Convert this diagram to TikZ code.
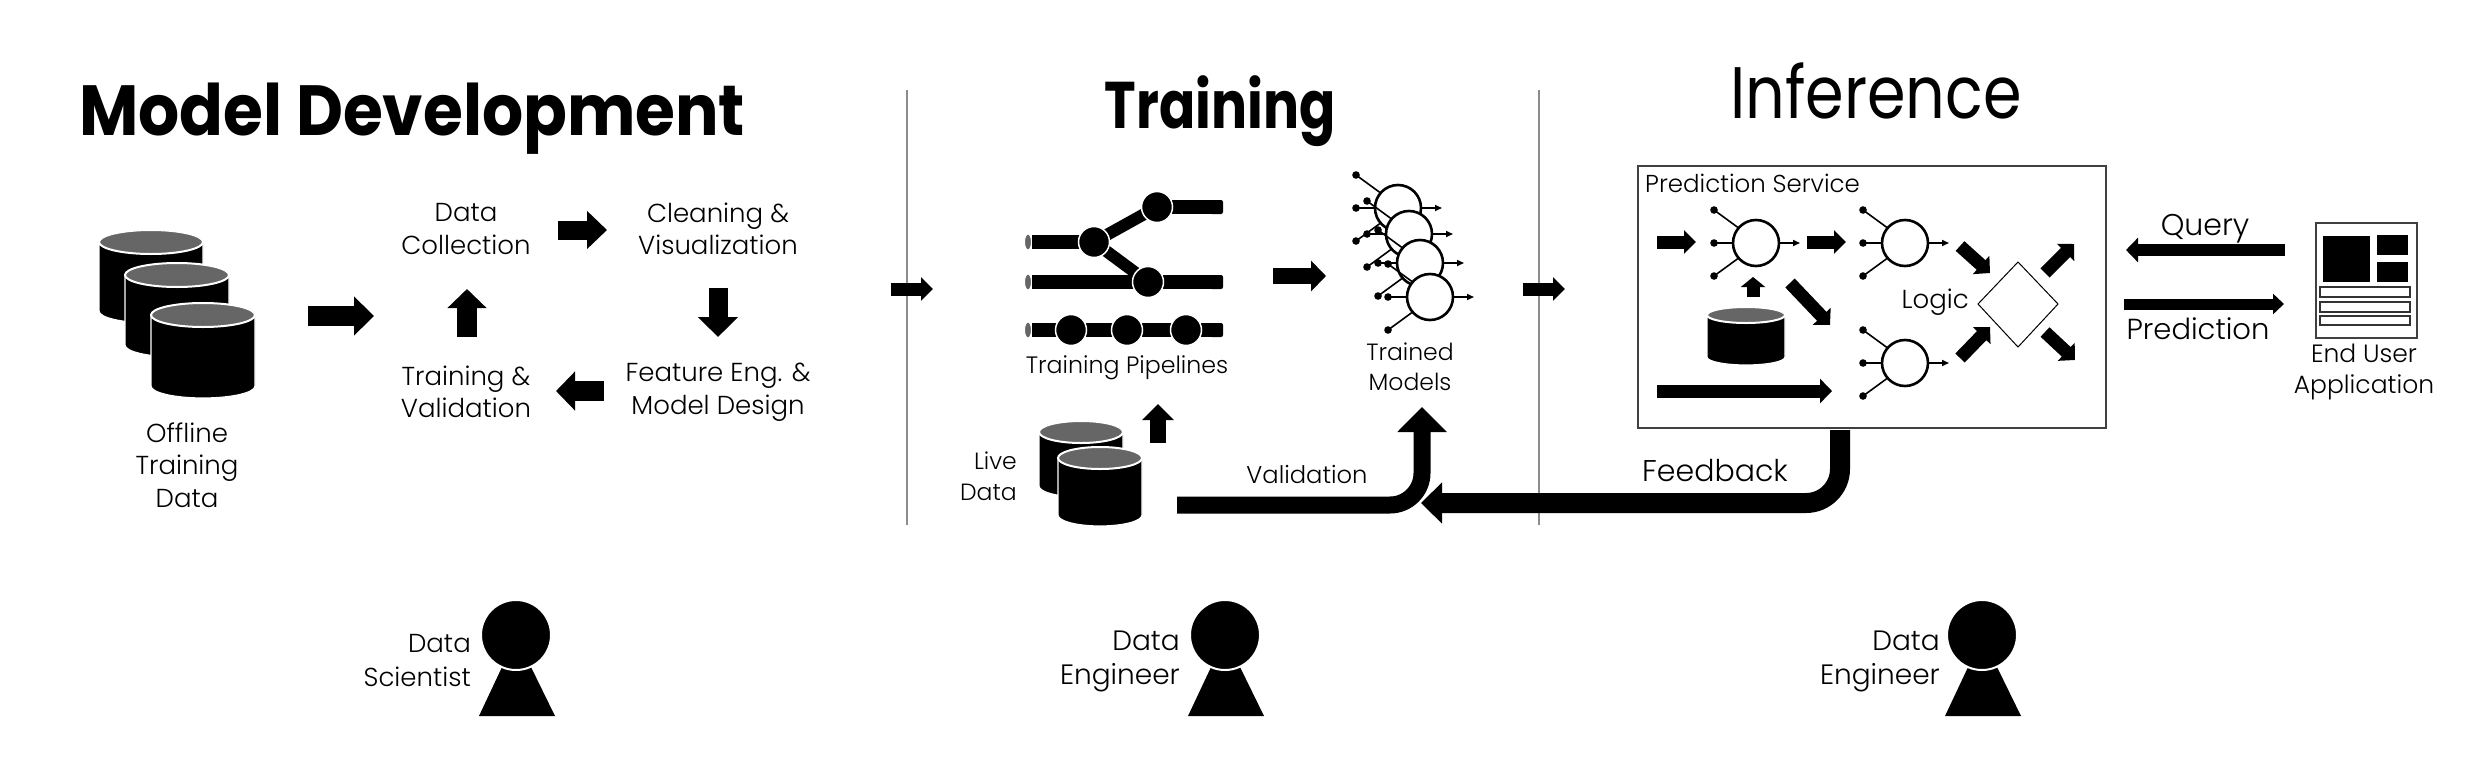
\documentclass[tikz,border=0pt]{standalone}
\usepackage{fontspec}
\usepackage{graphicx}
\setmainfont{Poppins Light}[BoldFont=Poppins Bold]
\newfontfamily\regf{Poppins}
\usetikzlibrary{arrows.meta,shapes.geometric}
\definecolor{cyltop}{HTML}{666666}
\tikzset{
  lbl/.style={font=\fontsize{26}{32.5}\selectfont,inner sep=0pt,align=center},
  lblz/.style 2 args={inner sep=0pt,align=center,font=\fontsize{#1}{#2}\selectfont},
  lblr/.style={lbl,align=right,anchor=east},
  blk/.style n args={3}{line width=#1pt,line cap=butt,-{Triangle[length=#3pt,width=#2pt]},black},
  divider/.style={draw=black!45,line width=1.2pt},
  thin box/.style={draw=black!75,line width=1.5pt,fill=white},
  pipenode/.style={ellipse,draw=white,line width=1.5pt,fill=black,minimum width=31pt,minimum height=31pt,inner sep=0pt},
  pipebar/.style={line width=14pt,line cap=butt,black},
  pipebranch/.style={line width=12pt,line cap=butt,black},
  pipeend/.style={fill=cyltop,draw=white,line width=1pt},
  neuron/.pic={
    \draw[line width=1.6pt] (-16,-14) -- (-42,-33);
    \draw[line width=1.6pt] (-16,14) -- (-42,33);
    \draw[line width=2.4pt] (-22,0) -- (-42,0);
    \fill (-42,-33) circle[radius=3.8pt] (-42,0) circle[radius=3.8pt] (-42,33) circle[radius=3.8pt];
    \draw[line width=1.6pt,-{Triangle[length=7pt,width=6pt]}] (22,0) -- (44,0);
    \draw[line width=2.6pt,fill=white] (0,0) circle[radius=23pt];
  },
  person/.pic={
    \fill (-13,30) -- (14,30) -- (39,81) -- (-37,81) -- cycle;
    \fill[draw=white,line width=2pt] (0,0) ellipse[x radius=35pt,y radius=35pt];
  },
}
\newcommand\Cyl[5]{% cx, top centre y, bottom y, rx, ry
  \fill[black,draw=white,line width=1.2pt] (#1-#4,#2) -- (#1-#4,#3-#5)
    arc[start angle=180,end angle=0,x radius=#4,y radius=#5] -- (#1+#4,#2) -- cycle;
  \fill[cyltop,draw=white,line width=2pt] (#1,#2) ellipse[x radius=#4,y radius=#5];
}
\begin{document}
\begin{tikzpicture}[x=1pt,y=-1pt]
\useasboundingbox (0,0) rectangle (2492,782);
\fill[white] (0,0) rectangle (2492,782);

% titles
\node[inner sep=0pt,anchor=base west,font=\fontsize{71}{80}\selectfont\bfseries] (tmodel) at (79,135) {\scalebox{.91}[1]{Model Development}};
\node[inner sep=0pt,anchor=base,font=\fontsize{66}{80}\selectfont\bfseries] (ttrain) at (1220,128) {\scalebox{.81}[1]{Training}};
\node[inner sep=0pt,anchor=base,font=\fontsize{73}{80}\selectfont\regf] (tinf) at (1876,118) {\scalebox{.85}[1]{Inference}};

% dividers
\coordinate (d1a) at (907,90); \coordinate (d1b) at (907,525);
\coordinate (d2a) at (1539,90); \coordinate (d2b) at (1539,525);
\draw[divider] (d1a) -- (d1b);
\draw[divider] (d2a) -- (d2b);

% ---- model development
\Cyl{151}{242}{323}{52}{12}
\Cyl{177}{275}{357}{52}{12}
\Cyl{203}{315}{398}{52}{12}
\node[lbl] (offline) at (187,465) {Offline\\Training\\Data};
\node[lbl] (collect) at (466,229) {Data\\Collection};
\node[lbl] (clean) at (718,229) {Cleaning \&\\Visualization};
\node[lbl] (feat) at (718,392) {Feature Eng. \&\\Model Design};
\node[lbl] (trainv) at (466,392) {Training \&\\Validation};

\coordinate (a1s) at (308,316); \coordinate (a1e) at (374,316);
\draw[blk={20}{38}{20}] (a1s) -- (a1e);
\coordinate (a2s) at (558,230); \coordinate (a2e) at (607,230);
\draw[blk={19}{37}{20}] (a2s) -- (a2e);
\coordinate (a3s) at (718,288); \coordinate (a3e) at (718,337);
\draw[blk={19}{39}{20}] (a3s) -- (a3e);
\coordinate (a4s) at (604,391); \coordinate (a4e) at (556,391);
\draw[blk={20}{38}{19}] (a4s) -- (a4e);
\coordinate (a5s) at (467,337); \coordinate (a5e) at (467,289);
\draw[blk={20}{38}{19}] (a5s) -- (a5e);
\coordinate (a6s) at (891,289); \coordinate (a6e) at (933,289);
\draw[blk={13}{23}{12}] (a6s) -- (a6e);

% ---- training pipelines
\coordinate (pa) at (1094,242); \coordinate (pb) at (1157,207); \coordinate (pc) at (1148,282);
\coordinate (pd) at (1071,330); \coordinate (pe) at (1127,330); \coordinate (pf) at (1186,330);
\coordinate (l1) at (1032,242); \coordinate (l2) at (1032,282); \coordinate (l3) at (1032,330);
\coordinate (r1) at (1221,207); \coordinate (r2) at (1221,282); \coordinate (r3) at (1221,330);
\draw[pipebar] (l1) -- (pa);
\draw[pipebranch] (pa) -- (pb);
\draw[pipebranch] (pa) -- (pc);
\draw[pipebar] (pb) -- (r1);
\draw[pipebar] (l2) -- (r2);
\draw[pipebar] (l3) -- (r3);
\fill[rounded corners=2pt] (1210,200) rectangle (1223,214) (1210,275) rectangle (1223,289) (1210,323) rectangle (1223,337);
\fill[pipeend] (1028,242) ellipse[x radius=3.5pt,y radius=8pt];
\fill[pipeend] (1028,282) ellipse[x radius=3.5pt,y radius=8pt];
\fill[pipeend] (1028,330) ellipse[x radius=3.5pt,y radius=8pt];
\foreach \n in {a,b,c,d,e,f} \node[pipenode] (pn\n) at (p\n) {};
\node[lblz={23.7}{30}] (pipes) at (1127,368) {Training Pipelines};

\coordinate (a7s) at (1273,276); \coordinate (a7e) at (1326,276);
\draw[blk={16}{30}{15}] (a7s) -- (a7e);

% trained models
\pic at (1398,208) {neuron};
\pic at (1409,234) {neuron};
\pic at (1420,263) {neuron};
\pic at (1430,297) {neuron};
\node[lblz={23.5}{29.5}] (models) at (1410,367) {Trained\\Models};

% live data
\Cyl{1081}{432}{497}{42}{11}
\Cyl{1100}{458}{526}{42}{11}
\node[lblz={23.5}{31},align=right,anchor=east] (live) at (1017,476) {Live\\Data};
\coordinate (a8s) at (1158,443); \coordinate (a8e) at (1158,404);
\draw[blk={16}{31}{16}] (a8s) -- (a8e);

% validation & feedback
\coordinate (vs) at (1177,505); \coordinate (vc) at (1422,505); \coordinate (ve) at (1422,407);
\draw[black,line width=17pt,rounded corners=32pt,-{Triangle[length=25pt,width=48pt]}] (vs) -- (vc) -- (ve);
\coordinate (fs) at (1840,430); \coordinate (fc) at (1840,503); \coordinate (fe) at (1421,503);
\draw[black,line width=20pt,rounded corners=34pt,-{Triangle[length=21pt,width=40pt]}] (fs) -- (fc) -- (fe);
\node[lblz={24.2}{30}] (vlabel) at (1307,474) {Validation};
\node[lblz={30}{36}] (flabel) at (1715,471) {Feedback};

\coordinate (a9s) at (1523,289); \coordinate (a9e) at (1565,289);
\draw[blk={13}{23}{12}] (a9s) -- (a9e);

% ---- prediction service
\node[thin box,minimum width=468pt,minimum height=262pt,inner sep=0pt,anchor=north west] (svc) at (1637,165) {};
\node[lblz={24.5}{30},anchor=west] (svclabel) at (1645,183) {Prediction Service};
\pic at (1756,243) {neuron};
\pic at (1905,243) {neuron};
\pic at (1905,363) {neuron};
\Cyl{1746}{315}{365}{39}{8}

\coordinate (b1s) at (1657,242); \coordinate (b1e) at (1696,242);
\draw[blk={13}{23}{12}] (b1s) -- (b1e);
\coordinate (b2s) at (1807,242); \coordinate (b2e) at (1846,242);
\draw[blk={13}{23}{12}] (b2s) -- (b2e);
\coordinate (b3s) at (1753,297); \coordinate (b3e) at (1753,277);
\draw[blk={13}{24}{10}] (b3s) -- (b3e);
\coordinate (b4s) at (1790,283); \coordinate (b4e) at (1830,325);
\draw[blk={13}{24}{12}] (b4s) -- (b4e);
\coordinate (b5s) at (1960,246); \coordinate (b5e) at (1990,273);
\draw[blk={13}{24}{12}] (b5s) -- (b5e);
\coordinate (b6s) at (1960,358); \coordinate (b6e) at (1990,327);
\draw[blk={13}{24}{12}] (b6s) -- (b6e);
\coordinate (b7s) at (2045,273); \coordinate (b7e) at (2074,244);
\draw[blk={13}{24}{12}] (b7s) -- (b7e);
\coordinate (b8s) at (2045,332); \coordinate (b8e) at (2075,360);
\draw[blk={13}{24}{12}] (b8s) -- (b8e);
\coordinate (b9s) at (1657,391); \coordinate (b9e) at (1832,391);
\draw[blk={13}{24}{12}] (b9s) -- (b9e);

\coordinate (dn) at (2018,262); \coordinate (de) at (2058,304); \coordinate (ds) at (2018,347); \coordinate (dw) at (1978,304);
\draw[black,line width=1pt] (dn) -- (de) -- (ds) -- (dw) -- cycle;
\node[lblr] (logic) at (1969,302) {Logic};

% query / prediction
\coordinate (qs) at (2285,250); \coordinate (qe) at (2126,250);
\draw[blk={12}{24}{12}] (qs) -- (qe);
\node[lblz={30}{36}] (query) at (2205,229) {Query};
\coordinate (rs) at (2124,304); \coordinate (re) at (2284,304);
\draw[blk={11}{20}{11}] (rs) -- (re);
\node[lblz={29}{36}] (predict) at (2198,329) {Prediction};

% end user application
\node[thin box,minimum width=101pt,minimum height=115pt,inner sep=0pt,anchor=north west] (app) at (2315,222) {};
\fill (2323,236) rectangle (2370,282);
\fill (2377,235) rectangle (2408,255);
\fill (2377,262) rectangle (2408,282);
\draw[black!80,line width=1.2pt] (2320,287) rectangle (2410,297);
\draw[black!80,line width=1.2pt] (2320,302) rectangle (2410,312);
\draw[black!80,line width=1.2pt] (2320,316) rectangle (2410,325);
\node[lblz={25}{31}] (applabel) at (2364,372) {End User\\Application};

% ---- people
\pic at (516,635) {person};
\node[lblz={26}{34},align=right,anchor=east] (p1l) at (471,661) {Data\\Scientist};
\pic at (1225,635) {person};
\node[lblz={28}{34},align=right,anchor=east] (p2l) at (1180,661) {Data\\Engineer};
\pic at (1982,635) {person};
\node[lblz={28}{34},align=right,anchor=east] (p3l) at (1940,661) {Data\\Engineer};
\end{tikzpicture}
\end{document}
